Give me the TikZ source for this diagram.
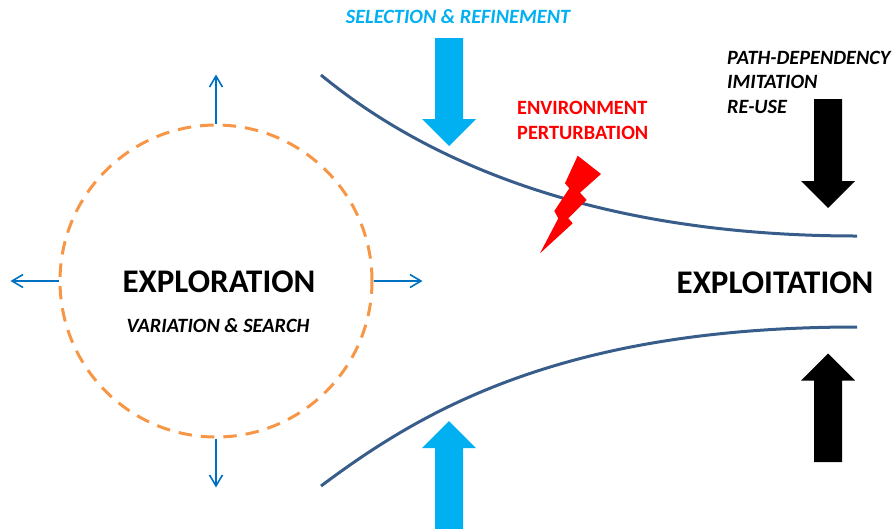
\documentclass[tikz,border=0pt]{standalone}
\usepackage{fontspec}
\setmainfont{Carlito}
\usepackage{tikz}
\usetikzlibrary{positioning, arrows.meta}
\definecolor{explorange}{HTML}{F79646}
\definecolor{spreadblue}{HTML}{0070C0}
\definecolor{selblue}{HTML}{00B0F0}
\definecolor{channelblue}{HTML}{385D8A}
\begin{document}
\begin{tikzpicture}[x=1pt,y=-1pt]
		\tikzstyle{ring} = [shape=circle, draw=explorange, line width=3, dash pattern=on 13.5pt off 9pt, minimum size=312, inner sep=0]
		\tikzstyle{spread} = [-{Straight Barb[length=11pt,width=13pt]}, draw=spreadblue, line width=1.6]
		\tikzstyle{channel} = [draw=channelblue, line width=3]
		\tikzstyle{bigtitle} = [inner sep=0, font=\fontsize{33}{38}\selectfont\bfseries]
		\tikzstyle{label} = [inner sep=0, font=\fontsize{20.3}{24.5}\selectfont\bfseries, align=left]
		\tikzstyle{slanted} = [font=\fontsize{20.3}{24.5}\selectfont\bfseries\itshape]
		\useasboundingbox (0,0) rectangle (893,528);
		% exploration side
		\node [ring] (explore) at (216,281) {};
		\node [bigtitle] (exptitle) at (219,282) {EXPLORATION};
		\node [label, slanted] (expsub) at (218,326) {VARIATION \& SEARCH};
		\draw [spread] (explore.north) -- ++(0,-49);
		\draw [spread] (explore.south) -- ++(0,49);
		\draw [spread] (explore.west) -- ++(-48,0);
		\draw [spread] (explore.east) -- ++(49,0);
		% channel walls
		\coordinate (topin) at (321,75);
		\coordinate (topout) at (857,236);
		\coordinate (botin) at (321,486);
		\coordinate (botout) at (857,327);
		\draw [channel] (topin) .. controls (400,140) and (560,236) .. (topout);
		\draw [channel] (botin) .. controls (420,412) and (560,327) .. (botout);
		% selection
		\node [label, slanted, text=selblue] (seltext) at (458,17) {SELECTION \& REFINEMENT};
		\fill [selblue] (435,38) -- (463,38) -- (463,119) -- (476,119) -- (449,146) -- (422,119) -- (435,119) -- cycle;
		\fill [selblue] (435,530) -- (463,530) -- (463,448) -- (476,448) -- (449,421) -- (422,448) -- (435,448) -- cycle;
		% perturbation
		\node [label, text=red, anchor=west] (envtext) at (517,120.5) {ENVIRONMENT\\PERTURBATION};
		\fill [red] (577.7,155.7) -- (601,174) -- (580,192.7) -- (586.7,200) -- (568.3,218.3) -- (572.7,223.3)
			-- (540,253.3) -- (558.3,218.3) -- (554.3,211) -- (569.3,188.3) -- (565,183.3) -- cycle;
		% exploitation side
		\node [bigtitle] (exploit) at (775,283) {EXPLOITATION};
		\node [label, slanted, anchor=west] (pathtext) at (727,82) {PATH-DEPENDENCY\\IMITATION\\RE-USE};
		\fill [black] (814,99) -- (842,99) -- (842,181) -- (855,181) -- (828,208) -- (801,181) -- (814,181) -- cycle;
		\fill [black] (814,462) -- (842,462) -- (842,380.5) -- (855,380.5) -- (828,353.5) -- (801,380.5) -- (814,380.5) -- cycle;
\end{tikzpicture}
\end{document}
